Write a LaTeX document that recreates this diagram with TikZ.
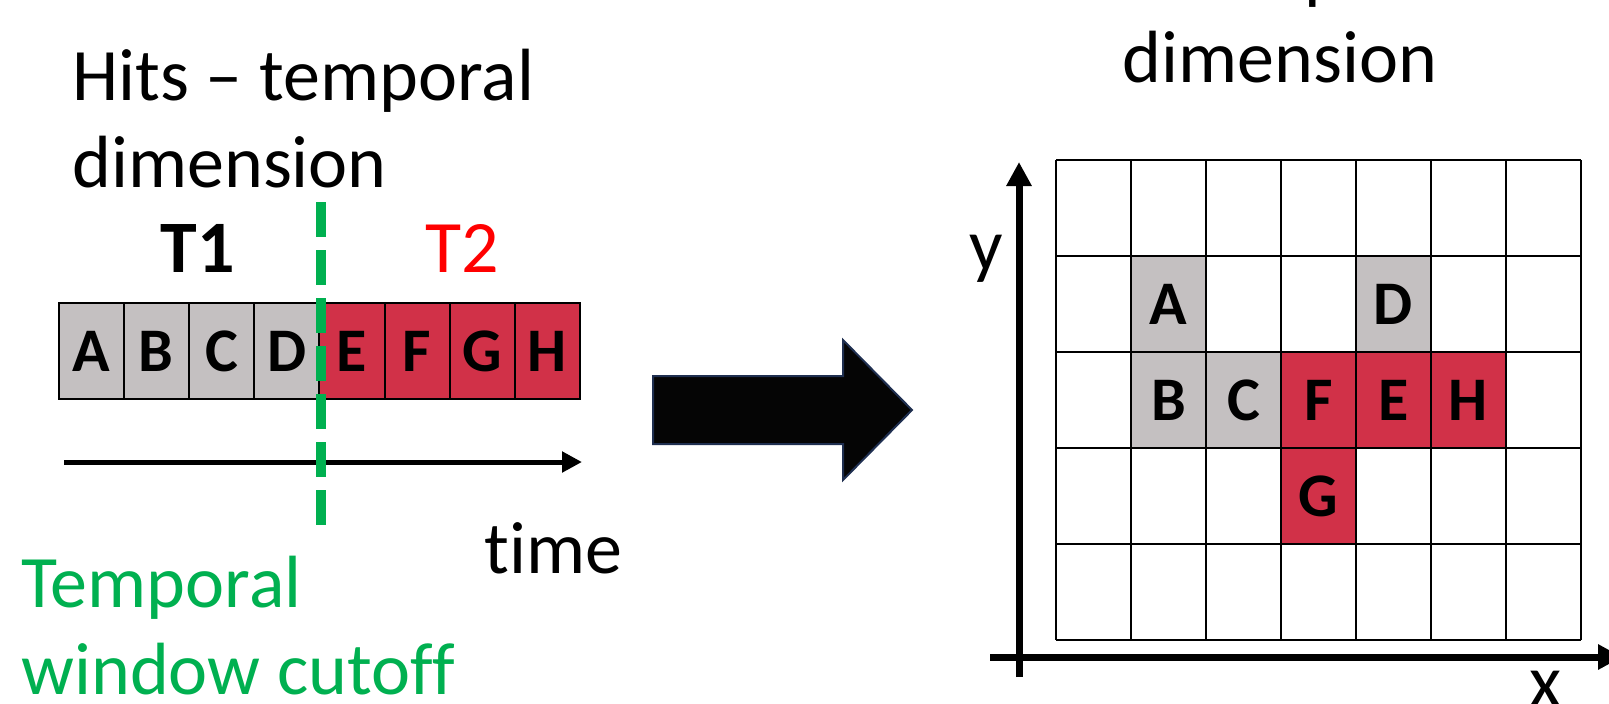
\documentclass[tikz,border=0pt]{standalone}
\usepackage{fontspec}
\setmainfont{Carlito}[Ligatures=NoCommon]
\usetikzlibrary{arrows.meta}
\usetikzlibrary{positioning}
\definecolor{hitgray}{RGB}{196,192,193}
\definecolor{hitred}{RGB}{209,49,72}
\definecolor{cutgreen}{RGB}{0,176,80}
\definecolor{arrowedge}{RGB}{31,47,80}
\tikzstyle{hitcell}=[rectangle,draw=black,line width=1pt,minimum width=32.6pt,minimum height=48pt,inner sep=0pt,font=\fontsize{31}{36}\selectfont\bfseries]
\tikzstyle{gridcell}=[hitcell,minimum width=37.5pt]
\tikzstyle{gridline}=[draw=black,line width=1pt]
\tikzstyle{bigtext}=[inner sep=0pt,font=\fontsize{37}{43.5}\selectfont,align=left]
\tikzstyle{axisline}=[line width=3.5pt,-{Triangle[length=12pt,width=12pt]}]
\tikzstyle{timeaxis}=[line width=2.5pt,-{Triangle[length=10pt,width=10pt]}]
\tikzstyle{cutline}=[cutgreen,line width=5pt,dash pattern=on 17.5pt off 6.5pt]
\tikzstyle{bigarrow}=[fill=black!98,draw=arrowedge,line width=1pt]

\begin{document}
\begin{tikzpicture}[x=0.5pt,y=-0.5pt]
  \clip (0,0) rectangle (1609,703);

  \def\sx{58.5};
  \def\sw{65.2};
  \def\sy{351};

  % temporal strip
  \foreach \i/\name/\label/\col in {0/sA/A/hitgray, 1/sB/B/hitgray, 2/sC/C/hitgray, 3/sD/D/hitgray,
                                    4/sE/E/hitred, 5/sF/F/hitred, 6/sG/G/hitred, 7/sH/H/hitred}
     \node[hitcell, fill=\col] (\name) at (\sx+\sw*\i+\sw/2, \sy) {\label};

  \node[bigtext, anchor=base west] (ttitle) at (72,187) {Hits – temporal\\dimension};
  \node[bigtext, anchor=base, font=\fontsize{37}{43.5}\selectfont\bfseries] (tone) at (198,272) {T1};
  \node[bigtext, anchor=base, text=red] (ttwo) at (462,272) {T2};

  \coordinate (t0) at (64,462);
  \coordinate (t1) at (582,462);
  \draw[timeaxis] (t0) -- (t1);
  \node[bigtext, anchor=base west] (timelabel) at (484,573) {time};

  \coordinate (cuttop) at (321,202);
  \coordinate (cutbot) at (321,525);
  \draw[cutline] (cuttop) -- (cutbot);
  \node[bigtext, anchor=base west, text=cutgreen] (cutlabel) at (21,694) {Temporal\\window cutoff};

  % arrow between the two views
  \draw[bigarrow] (653,376) -- (843,376) -- (843,340) -- (912,410) -- (843,480) -- (843,444) -- (653,444) -- cycle;

  % spatial grid
  \def\gx{1056};
  \def\gy{160};
  \def\gw{75};
  \def\gh{96};

  \node[bigtext, anchor=base, align=center] (stitle) at (1280,82) {Hits – spatial\\dimension};

  \foreach \c/\r/\name/\label/\col in {1/1/gA/A/hitgray, 4/1/gD/D/hitgray, 1/2/gB/B/hitgray, 2/2/gC/C/hitgray,
                                       3/2/gF/F/hitred, 4/2/gE/E/hitred, 5/2/gH/H/hitred, 3/3/gG/G/hitred}
     \node[gridcell, fill=\col] (\name) at (\gx+\gw*\c+\gw/2, \gy+\gh*\r+\gh/2) {\label};

  \foreach \c in {0,...,7}
     \draw[gridline] (\gx+\gw*\c, \gy) -- (\gx+\gw*\c, \gy+5*\gh);
  \foreach \r in {0,...,5}
     \draw[gridline] (\gx, \gy+\gh*\r) -- (\gx+7*\gw, \gy+\gh*\r);

  \coordinate (ybot) at (1019,677);
  \coordinate (ytop) at (1019,162);
  \coordinate (xleft) at (990,657);
  \coordinate (xright) at (1622,657);
  \draw[axisline] (ybot) -- (ytop);
  \draw[axisline] (xleft) -- (xright);
  \node[bigtext, anchor=base] (ylabel) at (986,270) {y};
  \node[bigtext, anchor=base] (xlabel) at (1545,706) {x};

\end{tikzpicture}
\end{document}
